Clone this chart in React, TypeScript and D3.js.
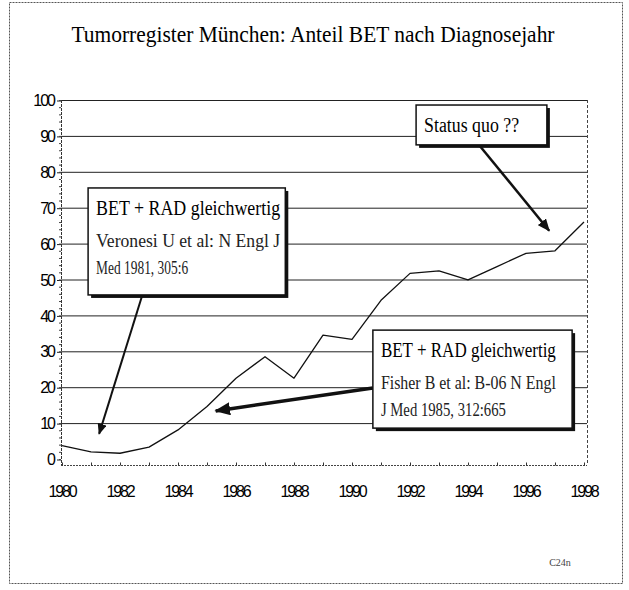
import { useEffect, useRef } from "react";
import * as d3 from "d3";

const years = [1980, 1981, 1982, 1983, 1984, 1985, 1986, 1987, 1988, 1989, 1990, 1991, 1992, 1993, 1994, 1995, 1996, 1997, 1998];
const betShare = [3.7, 2.0, 1.6, 3.3, 8.1, 14.6, 22.5, 28.5, 22.5, 34.5, 33.3, 44.2, 51.7, 52.4, 49.9, 53.6, 57.3, 58.0, 66.0];
const yTicks = [0, 10, 20, 30, 40, 50, 60, 70, 80, 90, 100];
const xTicks = [1980, 1982, 1984, 1986, 1988, 1990, 1992, 1994, 1996, 1998];

const title = "Tumorregister München: Anteil BET nach Diagnosejahr";
const footer = "C24n";

// annotation boxes, placed in data units (year / percent)
const notes = [
	{
		box: [1980.9, 75.5, 1987.7, 45.7],
		lines: ["BET + RAD gleichwertig", "Veronesi U et al: N Engl J", "Med 1981, 305:6"],
		widths: [184, 184, 92],
		arrow: [1982.76, 45.4, 1981.28, 7.0],
		arrowWidth: 2,
	},
	{
		box: [1990.72, 35.9, 1997.59, 8.6],
		lines: ["BET + RAD gleichwertig", "Fisher B et al: B-06 N Engl", "J Med 1985, 312:665"],
		widths: [175, 175, 125],
		arrow: [1990.72, 19.8, 1985.3, 13.4],
		arrowWidth: 3.5,
	},
	{
		box: [1992.21, 98.6, 1996.72, 87.5],
		lines: ["Status quo ??"],
		widths: [95],
		arrow: [1994.41, 87.2, 1996.8, 63.6],
		arrowWidth: 2.5,
	},
];

const W = 629;
const H = 590;

export default function App() {
	const svgRef = useRef<SVGSVGElement>(null);

	useEffect(() => {
		if (!svgRef.current) return;
		const svg = d3.select(svgRef.current);
		svg.selectAll("*").remove();

		const plot = { left: 61, right: 587, top: 100, bottom: 465 };

		const x = d3.scaleLinear().domain([1980, 1998]).range([62, 584]);
		const y = d3.scaleLinear().domain([0, 100]).range([459, 100]);

		svg.append("rect").attr("width", W).attr("height", H).attr("fill", "white");

		// outer frame
		svg.append("rect")
			.attr("x", 9.5)
			.attr("y", 2.5)
			.attr("width", 613)
			.attr("height", 581)
			.attr("fill", "none")
			.attr("stroke", "#555")
			.attr("stroke-dasharray", "2,1");

		svg.append("text")
			.attr("x", 313)
			.attr("y", 42)
			.attr("text-anchor", "middle")
			.attr("font-family", "Liberation Serif")
			.attr("font-size", 24)
			.attr("textLength", 483)
			.attr("lengthAdjust", "spacingAndGlyphs")
			.attr("fill", "#000")
			.text(title);

		const g = svg.append("g");

		// gridlines
		g.selectAll("line.grid")
			.data(yTicks.filter((d) => d > 0))
			.join("line")
			.attr("class", "grid")
			.attr("x1", plot.left)
			.attr("x2", plot.right)
			.attr("y1", (d) => y(d) + 0.5)
			.attr("y2", (d) => y(d) + 0.5)
			.attr("stroke", "#222")
			.attr("stroke-width", 1);

		// y axis
		const yAxis = d3.axisLeft(y).tickValues(yTicks).tickSize(4).tickPadding(3);
		g.append("g")
			.attr("transform", `translate(${plot.left},0.5)`)
			.call(yAxis)
			.call((a) => a.select(".domain").remove())
			.call((a) => a.selectAll(".tick line").attr("stroke", "#222"))
			.call((a) =>
				a
					.selectAll(".tick text")
					.attr("fill", "#000")
					.attr("font-size", "16px")
					.attr("font-family", "Liberation Sans")
					.attr("letter-spacing", "-2px")
			);

		// minor ticks on left axis
		g.selectAll("line.minor")
			.data(d3.range(0, 101, 2))
			.join("line")
			.attr("class", "minor")
			.attr("x1", plot.left - 2)
			.attr("x2", plot.left)
			.attr("y1", (d) => y(d) + 0.5)
			.attr("y2", (d) => y(d) + 0.5)
			.attr("stroke", "#444");

		g.append("line")
			.attr("x1", plot.left + 0.5)
			.attr("x2", plot.left + 0.5)
			.attr("y1", plot.top)
			.attr("y2", plot.bottom)
			.attr("stroke", "#333")
			.attr("stroke-dasharray", "3,1");
		g.append("line")
			.attr("x1", plot.right + 0.5)
			.attr("x2", plot.right + 0.5)
			.attr("y1", plot.top)
			.attr("y2", plot.bottom)
			.attr("stroke", "#444")
			.attr("stroke-dasharray", "3,2");

		// x axis
		const xAxis = d3
			.axisBottom(x)
			.tickValues(years)
			.tickSize(3)
			.tickFormat(() => "");
		g.append("g")
			.attr("transform", `translate(0,${plot.bottom + 0.5})`)
			.call(xAxis)
			.call((a) =>
				a
					.select(".domain")
					.attr("d", `M${plot.left},0H${plot.right}`)
					.attr("stroke", "#444")
					.attr("stroke-dasharray", "2,1")
			)
			.call((a) => a.selectAll(".tick line").attr("stroke", "#333").attr("y1", -3).attr("y2", 0));

		g.selectAll("text.xl")
			.data(xTicks)
			.join("text")
			.attr("class", "xl")
			.attr("x", (d) => x(d))
			.attr("y", 497)
			.attr("text-anchor", "middle")
			.attr("font-family", "Liberation Sans")
			.attr("font-size", 16)
			.attr("letter-spacing", "-2.2px")
			.attr("fill", "#000")
			.text((d) => String(d));

		// data line
		const line = d3
			.line<number>()
			.x((_, i) => x(years[i]))
			.y((d) => y(d));
		g.append("path")
			.datum(betShare)
			.attr("fill", "none")
			.attr("stroke", "#111")
			.attr("stroke-width", 1.3)
			.attr("stroke-linejoin", "round")
			.attr("d", line);

		// arrow heads
		const defs = svg.append("defs");
		notes.forEach((n, i) => {
			const s = 4 + n.arrowWidth * 2.6;
			defs.append("marker")
				.attr("id", `head-${i}`)
				.attr("markerUnits", "userSpaceOnUse")
				.attr("viewBox", "0 -5 12 10")
				.attr("refX", 11)
				.attr("refY", 0)
				.attr("markerWidth", s * 1.2)
				.attr("markerHeight", s)
				.attr("orient", "auto")
				.append("path")
				.attr("d", "M0,-5L12,0L0,5Z")
				.attr("fill", "#111");
		});

		// annotations
		notes.forEach((n, i) => {
			const [bx0, by0, bx1, by1] = n.box;
			const left = x(bx0);
			const top = y(by0);
			const right = x(bx1);
			const bottom = y(by1);
			const [ax0, ay0, ax1, ay1] = n.arrow;

			g.append("line")
				.attr("x1", x(ax0))
				.attr("y1", y(ay0))
				.attr("x2", x(ax1))
				.attr("y2", y(ay1))
				.attr("stroke", "#111")
				.attr("stroke-width", n.arrowWidth)
				.attr("marker-end", `url(#head-${i})`);

			g.append("rect")
				.attr("x", left + 3)
				.attr("y", top + 3)
				.attr("width", right - left)
				.attr("height", bottom - top)
				.attr("fill", "#111");
			g.append("rect")
				.attr("x", left)
				.attr("y", top)
				.attr("width", right - left)
				.attr("height", bottom - top)
				.attr("fill", "white")
				.attr("stroke", "#111")
				.attr("stroke-width", 1.5);

			n.lines.forEach((t, j) => {
				const ty = j === 0 ? top + 27 : top + 27 + 32 + (j - 1) * 27;
				g.append("text")
					.attr("x", left + 8)
					.attr("y", ty)
					.attr("font-family", "Liberation Serif")
					.attr("font-size", j === 0 ? 20 : 19)
					.attr("textLength", n.widths[j])
					.attr("lengthAdjust", "spacingAndGlyphs")
					.attr("fill", j === 0 ? "#000" : "#222")
					.text(t);
			});
		});

		svg.append("text")
			.attr("x", 560)
			.attr("y", 566)
			.attr("text-anchor", "middle")
			.attr("font-family", "Liberation Serif")
			.attr("font-size", 10)
			.attr("fill", "#444")
			.text(footer);
	}, []);

	return (
		<div style={{ position: "absolute", left: 0, top: 0 }}>
			<svg ref={svgRef} width={W} height={H} style={{ display: "block" }} />
		</div>
	);
}
